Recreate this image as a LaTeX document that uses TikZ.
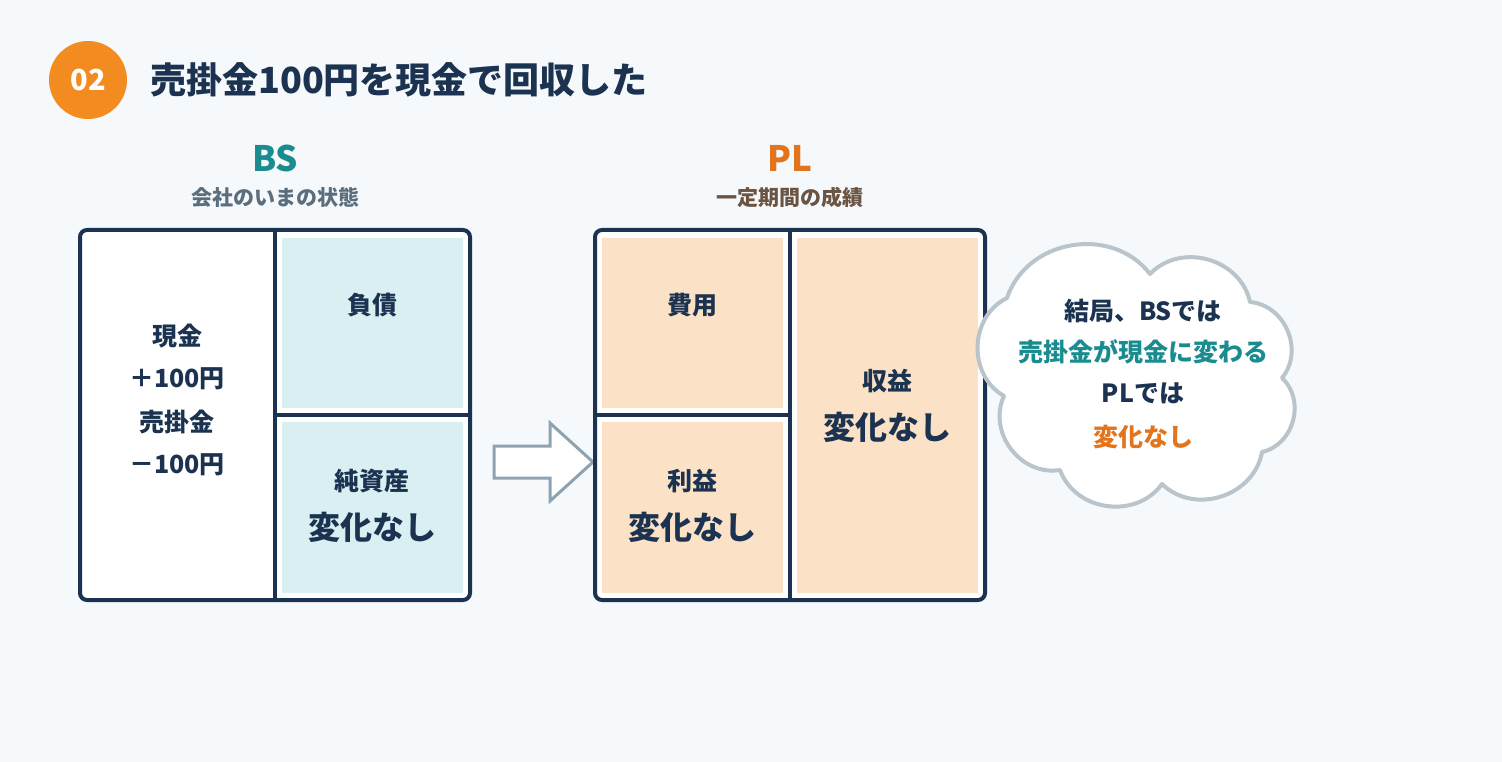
\documentclass[tikz,border=0pt]{standalone}
\usepackage{fontspec}
\setmainfont{Noto Sans CJK JP}
\definecolor{bgc}{HTML}{F6F9FB}
\definecolor{navy}{HTML}{1B3350}
\definecolor{lblue}{HTML}{D9EFF1}
\definecolor{peach}{HTML}{FBE1C5}
\definecolor{tealc}{HTML}{1A8C8F}
\definecolor{orangec}{HTML}{E2741C}
\definecolor{badge}{HTML}{F28B20}
\definecolor{bssub}{HTML}{5B6E7E}
\definecolor{plsub}{HTML}{6B5442}
\definecolor{cloudc}{HTML}{BAC4CB}
\definecolor{arrowc}{HTML}{8EA3B1}
\tikzset{
  frame/.style={draw=navy, line width=4pt, fill=white, rounded corners=7pt, minimum width=390pt, minimum height=370pt, inner sep=0},
  divider/.style={draw=navy, line width=4pt},
  cell/.style={inner sep=0, draw=none},
  txt/.style={inner sep=0, text=navy, font=\bfseries\fontsize{25}{29}\selectfont},
  bigtxt/.style={inner sep=0, text=navy, font=\bfseries\fontsize{32}{36}\selectfont},
  head/.style={inner sep=0, font=\bfseries\fontsize{35}{40}\selectfont},
  sub/.style={inner sep=0, font=\bfseries\fontsize{21}{25}\selectfont},
  cloudline/.style={draw=cloudc, fill=white, line width=4pt, line join=round},
  puff/.style={bend left=62, looseness=1.1},
}
\begin{document}
\begin{tikzpicture}[x=1pt,y=-1pt]
\useasboundingbox (0,0) rectangle (1502,762);
\fill[bgc] (0,0) rectangle (1502,762);
% header
\node[circle, fill=badge, minimum size=78pt, inner sep=0] (badge) at (88,80) {};
\node[inner sep=0, text=white, font=\bfseries\fontsize{29}{33}\selectfont] (num) at (badge.center) {02};
\node[inner sep=0, anchor=west, text=navy, font=\bfseries\fontsize{36}{40}\selectfont] (title) at (150,80) {売掛金100円を現金で回収した};
% labels
\node[head, text=tealc] (bslbl) at (275,158) {BS};
\node[sub, text=bssub] (bssublbl) at (275,197) {会社のいまの状態};
\node[head, text=orangec] (pllbl) at (790,158) {PL};
\node[sub, text=plsub] (plsublbl) at (790,197) {一定期間の成績};
% BS box
\node[frame] (bs) at (275,415) {};
\node[cell, fill=lblue, minimum width=181pt, minimum height=170pt] (liab) at (372.5,323) {};
\node[cell, fill=lblue, minimum width=181pt, minimum height=171pt] (eq) at (372.5,507.5) {};
\draw[divider] (bs.north) -- (bs.south);
\draw[divider] (bs.center) -- (bs.east);
\node[txt] (a1) at (177,336) {現金};
\node[txt] (a2) at (177,379) {＋100円};
\node[txt] (a3) at (177,422) {売掛金};
\node[txt] (a4) at (177,465) {－100円};
\node[txt] (liabt) at (372,305) {負債};
\node[txt] (eqt) at (372,481) {純資産};
\node[bigtxt] (eqv) at (372,527) {変化なし};
% arrow
\draw[draw=arrowc, fill=white, line width=3pt, line join=miter]
  (494,446) -- (550,446) -- (550,423) -- (593,462) -- (550,501) -- (550,478) -- (494,478) -- cycle;
% PL box
\node[frame] (pl) at (790,415) {};
\node[cell, fill=peach, minimum width=181pt, minimum height=170pt] (cost) at (692.5,323) {};
\node[cell, fill=peach, minimum width=181pt, minimum height=171pt] (profit) at (692.5,507.5) {};
\node[cell, fill=peach, minimum width=181pt, minimum height=355pt] (rev) at (887.5,415.5) {};
\draw[divider] (pl.north) -- (pl.south);
\draw[divider] (pl.west) -- (pl.center);
\node[txt] (costt) at (692,305) {費用};
\node[txt] (proft) at (692,481) {利益};
\node[bigtxt] (profv) at (692,527) {変化なし};
\node[txt] (revt) at (887,381) {収益};
\node[bigtxt] (revv) at (887,427) {変化なし};
% cloud
\coordinate (d1) at (1007,298);
\coordinate (d2) at (1150,274);
\coordinate (d3) at (1250,302);
\coordinate (d4) at (1282,378);
\coordinate (d5) at (1262,452);
\coordinate (d6) at (1162,484);
\coordinate (d7) at (1060,470);
\coordinate (d8) at (1004,396);
\draw[cloudline] (d1) to[puff] (d2) to[puff] (d3) to[puff] (d4) to[puff] (d5)
  to[puff] (d6) to[puff] (d7) to[puff] (d8) to[puff] (d1) -- cycle;
\node[txt] (c1) at (1143,311) {結局、BSでは};
\node[txt, text=tealc] (c2) at (1143,352) {売掛金が現金に変わる};
\node[txt] (c3) at (1143,393) {PLでは};
\node[txt, text=orangec] (c4) at (1143,437) {変化なし};
\end{tikzpicture}
\end{document}
